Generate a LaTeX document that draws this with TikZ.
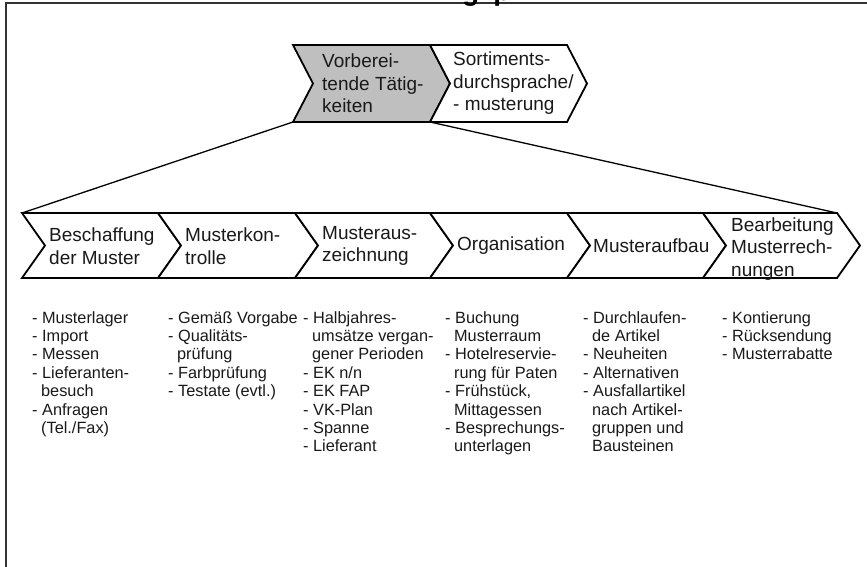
\documentclass[tikz,border=0pt]{standalone}
\usepackage{fontspec}
\setmainfont{Liberation Sans}
% chevron: #2,#3 = top-left corner, #4 = body width, #5 = height, #6 = tip depth
\newcommand\chevshape[6][]{%
  \path[chev,#1] (#2,#3) -- ++(#4,0) -- ++(#6,#5/2) -- ++(-#6,#5/2)
    -- ++(-#4,0) -- ++(#6,-#5/2) -- cycle;}
% indent for continued list lines
\newcommand\cont{\hspace*{0.55em}}
\begin{document}
\begin{tikzpicture}[x=1pt,y=-1pt,
  chev/.style={draw=black,line width=1.8pt,line join=miter,fill=white},
  grayfill/.style={fill=black!25},
  lbl/.style={anchor=west,align=left,inner sep=0pt,text=black!90,
    font=\fontsize{19}{22.5}\selectfont},
  lst/.style={anchor=north west,align=left,inner sep=0pt,text=black!90,
    font=\fontsize{16.3}{18.4}\selectfont},
  frameline/.style={draw=black!80,line width=2pt},
  link/.style={draw=black,line width=1.3pt}]
\useasboundingbox (0,0) rectangle (867,567);
\clip (0,0) rectangle (867,567);

% outer frame (open on the right and bottom)
\coordinate (fr-bl) at (6,568);
\coordinate (fr-tl) at (6,3);
\coordinate (fr-tr) at (868,3);
\draw[frameline] (fr-bl) -- (fr-tl) -- (fr-tr);

% heading, cut off by the upper edge
\node[anchor=base west,inner sep=0pt,font=\bfseries\fontsize{28}{28}\selectfont]
  (heading) at (462,0.5) {g\hspace{14pt}p};

% upper process step
\chevshape[grayfill]{293}{45}{137}{77}{20}
\chevshape{430}{45}{137}{77}{20}
\node[lbl] (t1) at (322,83.5) {Vorberei-\\tende Tätig-\\keiten};
\node[lbl] (t2) at (453,83.5) {Sortiments-\\durchsprache/\\- musterung};

% detailed process steps
\chevshape{22}{213}{136}{65}{23}
\chevshape{158}{213}{137}{65}{23}
\chevshape{295}{213}{135}{65}{23}
\chevshape{430}{213}{137}{65}{23}
\chevshape{567}{213}{136}{65}{23}
\chevshape{703}{213}{134}{65}{23}
\node[lbl] (l1) at (49,246) {Beschaffung\\der Muster};
\node[lbl] (l2) at (185,246) {Musterkon-\\trolle};
\node[lbl] (l3) at (322,246) {Musteraus-\\zeichnung};
\node[lbl] (l4) at (457,246) {Organisation};
\node[lbl] (l5) at (593,246) {Musteraufbau};
\node[lbl] (l6) at (731,249) {Bearbeitung\\Musterrech-\\nungen};

% zoom lines from the upper step to the detailed row
\coordinate (up-bl) at (293,122);
\coordinate (up-bm) at (430,122);
\coordinate (row-tl) at (22,213);
\coordinate (row-tr) at (837,213);
\draw[link] (up-bl) -- (row-tl);
\draw[link] (up-bm) -- (row-tr);

% activity lists
\node[lst] (c1) at (32,311) {- Musterlager\\- Import\\- Messen\\- Lieferanten-\\\cont besuch\\- Anfragen\\\cont(Tel./Fax)};
\node[lst] (c2) at (168,311) {- Gemäß Vorgabe\\- Qualitäts-\\\cont prüfung\\- Farbprüfung\\- Testate (evtl.)};
\node[lst] (c3) at (303,311) {- Halbjahres-\\\cont umsätze vergan-\\\cont gener Perioden\\- EK n/n\\- EK FAP\\- VK-Plan\\- Spanne\\- Lieferant};
\node[lst] (c4) at (445,311) {- Buchung\\\cont Musterraum\\- Hotelreservie-\\\cont rung für Paten\\- Frühstück,\\\cont Mittagessen\\- Besprechungs-\\\cont unterlagen};
\node[lst] (c5) at (583,311) {- Durchlaufen-\\\cont de Artikel\\- Neuheiten\\- Alternativen\\- Ausfallartikel\\\cont nach Artikel-\\\cont gruppen und\\\cont Bausteinen};
\node[lst] (c6) at (722,311) {- Kontierung\\- Rücksendung\\- Musterrabatte};
\end{tikzpicture}
\end{document}
